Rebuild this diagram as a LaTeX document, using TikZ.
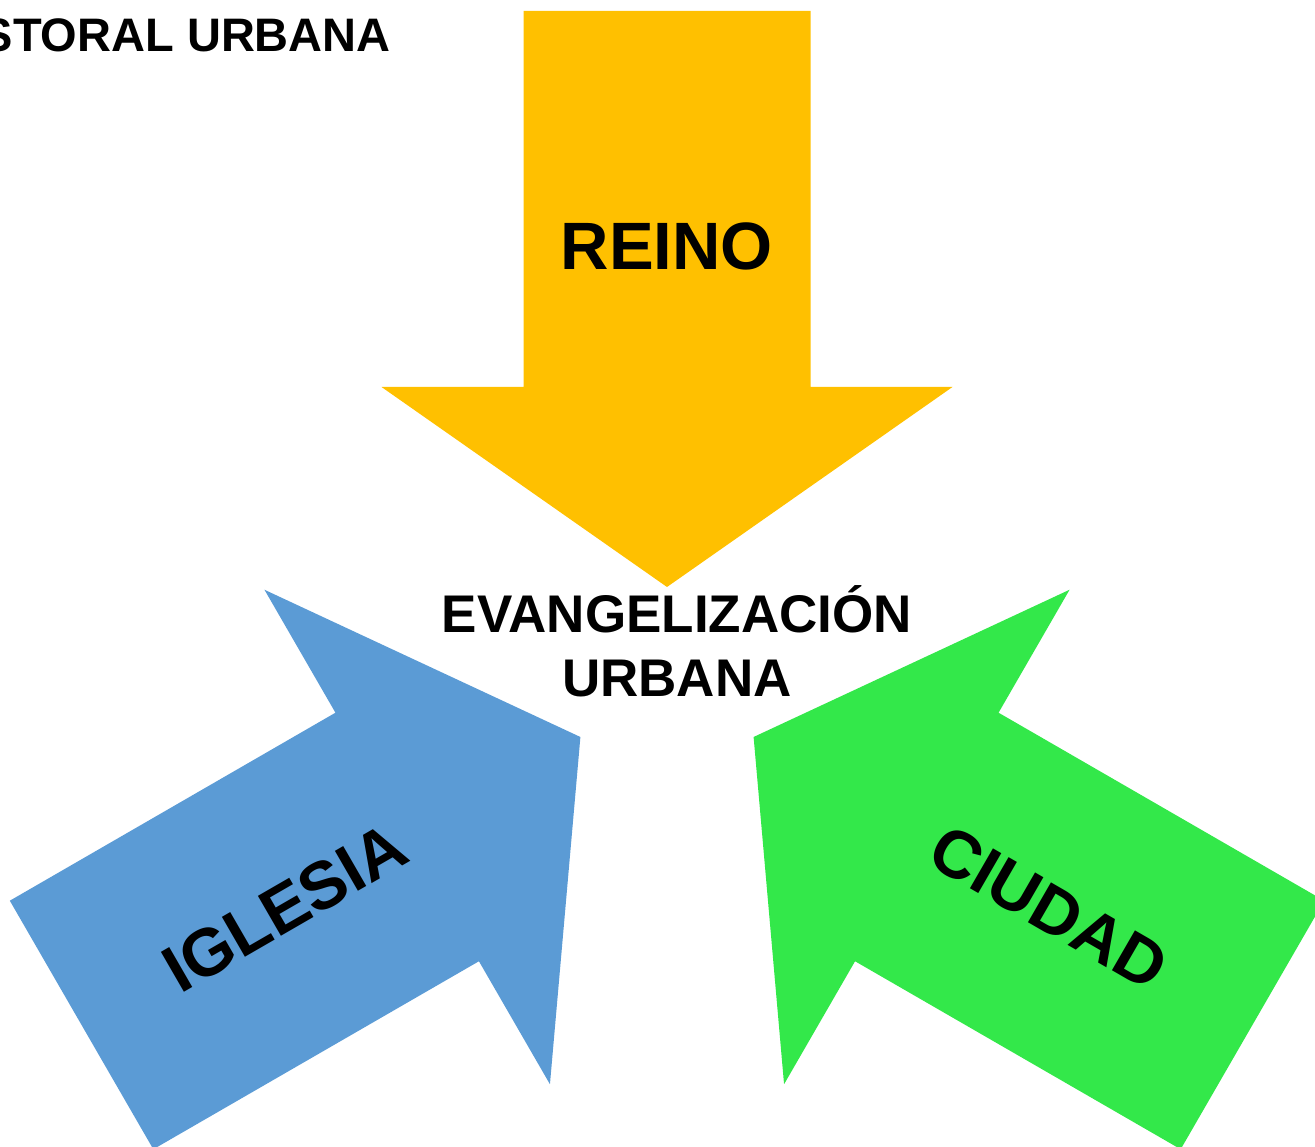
\documentclass[tikz,border=0pt]{standalone}
\usepackage{fontspec}
\setmainfont{Liberation Sans}
\definecolor{reino}{HTML}{FFC000}
\definecolor{iglesia}{HTML}{5B9BD5}
\definecolor{ciudad}{HTML}{33E84A}
\begin{document}
\begin{tikzpicture}[x = 1pt, y = 1pt,
        every node/.style={inner sep=0pt, font=\bfseries},
        big/.style={font=\fontsize{67}{78}\selectfont\bfseries},
        mid/.style={font=\fontsize{53}{64}\selectfont\bfseries}
]
    \useasboundingbox (0,0) rectangle (1315,1147);
    \clip (0,0) rectangle (1315,1147);
    % three arrows, tips 100 from the centre
    \foreach \ang/\col/\txt/\rot in {-90/reino/REINO/0, 30/iglesia/IGLESIA/30, 150/ciudad/CIUDAD/-30} {
    \begin{scope}[shift={(667,460)}, rotate=\ang, shift={(-100,0)}]
        \fill[\col] (0,0) -- (-200,285.5) -- (-200,143.5) -- (-576,143.5)
            -- (-576,-143.5) -- (-200,-143.5) -- (-200,-285.5) -- cycle;
        \node[big, rotate=\rot] (\col) at (-341,0) {\txt};
    \end{scope}
    }
    \node[mid, anchor=base] (evang) at (677,514) {EVANGELIZACIÓN};
    \node[mid, anchor=base] (urbana) at (677,450) {URBANA};
    \node[font=\fontsize{47}{57}\selectfont\bfseries, anchor=base east] (titulo) at (391,1095) {STORAL URBANA};
\end{tikzpicture}
\end{document}
